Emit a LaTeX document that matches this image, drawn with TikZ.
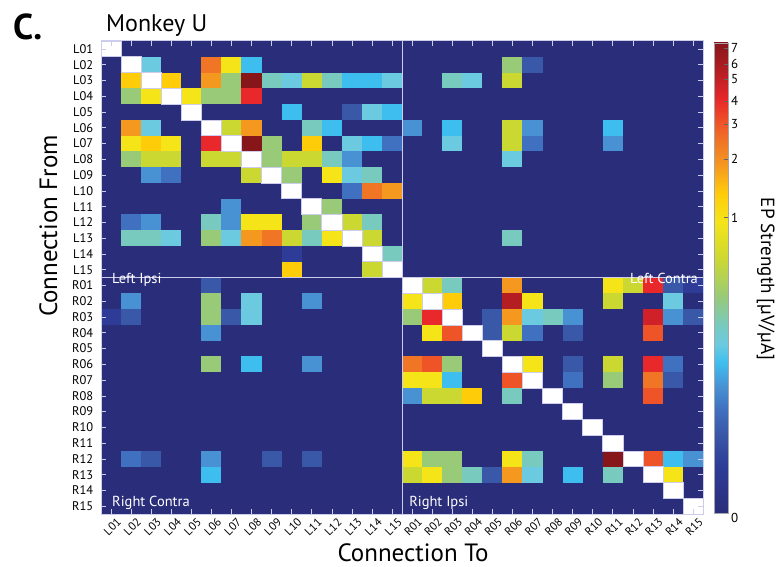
\documentclass[tikz,border=0pt]{standalone}
\usepackage{fontspec}
\setmainfont{PT Sans}
\definecolor{epNavy}{RGB}{42,46,122}
\definecolor{epBlueD}{RGB}{46,60,152}
\definecolor{epBlueA}{RGB}{58,88,168}
\definecolor{epBlueB}{RGB}{64,112,192}
\definecolor{epBlueC}{RGB}{72,146,212}
\definecolor{epCyan}{RGB}{62,190,238}
\definecolor{epLcyan}{RGB}{108,202,224}
\definecolor{epTeal}{RGB}{120,202,190}
\definecolor{epLgreen}{RGB}{152,202,120}
\definecolor{epYgreen}{RGB}{204,216,50}
\definecolor{epYellow}{RGB}{244,228,24}
\definecolor{epGold}{RGB}{255,204,10}
\definecolor{epOrange}{RGB}{245,152,32}
\definecolor{epDorange}{RGB}{240,118,38}
\definecolor{epRedor}{RGB}{238,84,40}
\definecolor{epRed}{RGB}{232,40,42}
\definecolor{epCrimson}{RGB}{208,32,40}
\definecolor{epDred}{RGB}{180,30,34}
\definecolor{epMaroon}{RGB}{135,22,27}
\definecolor{epFrame}{RGB}{205,205,235}
\pgfdeclareverticalshading{epmap}{100bp}{color(0bp)=(epNavy); color(25bp)=(epNavy);
  color(30bp)=(epBlueD); color(33.5bp)=(epBlueA); color(36bp)=(epBlueB);
  color(38.5bp)=(epBlueC); color(41bp)=(epCyan); color(43bp)=(epLcyan);
  color(45bp)=(epTeal); color(48bp)=(epLgreen); color(52bp)=(epYgreen);
  color(56bp)=(epYellow); color(59bp)=(epGold); color(62bp)=(epOrange);
  color(64.5bp)=(epDorange); color(66.5bp)=(epRedor); color(69bp)=(epRed);
  color(72bp)=(epDred); color(75bp)=(epMaroon); color(100bp)=(epMaroon)}
% one row of the matrix: column/colour pairs
\newcommand{\heatrow}[2]{\foreach \cc/\kk in {#2} \fill[\kk] (\cc-1,#1-1) rectangle (\cc,#1);}

\begin{document}
\begin{tikzpicture}[x=1pt,y=-1pt,
    every node/.style={inner sep=0pt},
    rowlab/.style={anchor=east,font=\fontsize{12.5}{13}\selectfont},
    collab/.style={anchor=east,rotate=45,font=\fontsize{11.5}{12}\selectfont},
    quadlab/.style={white,font=\fontsize{14.5}{15}\selectfont},
    axlab/.style={font=\fontsize{25}{27}\selectfont},
    diagcell/.style={fill=white,draw=epFrame,line width=0.6pt},
    eptick/.style={draw=epFrame,line width=0.6pt},
    cbtick/.style={anchor=west,font=\fontsize{13}{14}\selectfont}]
    \useasboundingbox (0,0) rectangle (777,567);
    % Header
    \node[anchor=base west,font=\fontsize{36}{38}\selectfont\bfseries] (panel) at (13,40) {C.};
    \node[anchor=base west,font=\fontsize{24}{26}\selectfont] (title) at (106,32) {Monkey U};
    % Matrix
    \begin{scope}[shift={(101,41)},x=20.07pt,y=-15.77pt]
    \fill[epNavy] (0,0) rectangle (30,30);
    \heatrow{2}{3/epLcyan,6/epDorange,7/epYellow,8/epCyan,21/epLgreen,22/epBlueA}
    \heatrow{3}{2/epGold,4/epGold,6/epOrange,7/epLgreen,8/epMaroon,9/epTeal,10/epLcyan,11/epYgreen,12/epTeal,13/epCyan,14/epCyan,15/epLcyan,18/epTeal,19/epLcyan,21/epYgreen}
    \heatrow{4}{2/epLgreen,3/epYellow,5/epYellow,6/epLgreen,7/epLgreen,8/epRed}
    \heatrow{5}{10/epCyan,13/epBlueA,14/epLcyan,15/epCyan}
    \heatrow{6}{2/epOrange,3/epLcyan,7/epYgreen,8/epOrange,11/epTeal,12/epCyan,16/epBlueC,18/epCyan,21/epYgreen,22/epBlueC,26/epCyan}
    \heatrow{7}{2/epYellow,3/epGold,4/epYellow,6/epRed,8/epMaroon,9/epLgreen,11/epGold,13/epLcyan,14/epCyan,15/epBlueB,18/epLcyan,21/epYgreen,22/epBlueB,26/epBlueC}
    \heatrow{8}{2/epLgreen,3/epYgreen,4/epYgreen,6/epYgreen,7/epYgreen,9/epLgreen,10/epYgreen,11/epYgreen,12/epTeal,13/epBlueC,21/epLcyan}
    \heatrow{9}{3/epBlueC,4/epBlueB,8/epYgreen,10/epLgreen,12/epYellow,13/epLcyan,14/epTeal}
    \heatrow{10}{13/epBlueB,14/epDorange,15/epOrange}
    \heatrow{11}{7/epBlueC,12/epLgreen}
    \heatrow{12}{2/epBlueB,3/epBlueC,6/epTeal,7/epBlueC,8/epYellow,9/epYellow,11/epLgreen,13/epYgreen,14/epTeal}
    \heatrow{13}{2/epTeal,3/epTeal,4/epLcyan,6/epLgreen,7/epLcyan,8/epOrange,9/epDorange,10/epYgreen,11/epTeal,12/epYellow,14/epYgreen,21/epTeal}
    \heatrow{14}{10/epBlueD,15/epTeal}
    \heatrow{15}{10/epGold,14/epYgreen}
    \heatrow{16}{6/epBlueA,17/epYgreen,18/epTeal,21/epOrange,26/epYellow,27/epYgreen,28/epRed,29/epBlueA,30/epBlueD}
    \heatrow{17}{2/epBlueC,6/epLgreen,8/epLcyan,11/epBlueC,16/epYellow,18/epGold,21/epDred,22/epYellow,26/epYgreen,29/epLcyan}
    \heatrow{18}{1/epBlueD,2/epBlueA,6/epLgreen,7/epBlueA,8/epLcyan,16/epLgreen,17/epRed,20/epBlueA,21/epOrange,22/epLcyan,23/epTeal,24/epBlueC,28/epCrimson,29/epBlueC,30/epBlueA}
    \heatrow{19}{6/epBlueC,17/epYellow,18/epRedor,20/epBlueA,21/epYgreen,22/epBlueB,24/epBlueA,28/epRedor}
    \heatrow{21}{6/epLgreen,8/epCyan,11/epBlueC,16/epDorange,17/epRedor,18/epLgreen,22/epYellow,24/epBlueA,26/epYgreen,28/epRed,29/epBlueB}
    \heatrow{22}{16/epYellow,17/epYellow,18/epCyan,21/epRedor,24/epBlueB,26/epLgreen,28/epDorange,29/epBlueA}
    \heatrow{23}{16/epBlueC,17/epYgreen,18/epYgreen,19/epGold,21/epTeal,28/epRedor}
    \heatrow{27}{2/epBlueB,3/epBlueA,6/epBlueC,9/epBlueA,11/epBlueA,16/epYellow,17/epLgreen,18/epLgreen,21/epYellow,22/epTeal,26/epMaroon,28/epRedor,29/epCyan,30/epBlueC}
    \heatrow{28}{6/epCyan,16/epYgreen,17/epYellow,18/epLgreen,19/epTeal,20/epBlueA,21/epOrange,22/epLcyan,24/epCyan,26/epTeal,29/epYellow}
    % Diagonal
    \foreach \i in {1,...,30} \filldraw[diagcell] (\i-1,\i-1) rectangle (\i,\i);
    % Ticks
    \foreach \i in {1,...,30} {
      \draw[eptick] (\i-0.5,0) -- ++(0pt,-5pt);
      \draw[eptick] (\i-0.5,30) -- ++(0pt,5pt);
      \draw[eptick] (0,\i-0.5) -- ++(5pt,0pt);
      \draw[eptick] (30,\i-0.5) -- ++(-5pt,0pt);
    }
    % Quadrants
    \draw[epFrame,line width=1pt] (15,0) -- (15,30) (0,15) -- (30,15);
    \draw[epFrame,line width=1pt] (0,0) rectangle (30,30);
    \node[quadlab,anchor=base west] (lipsi) at ([xshift=11pt,yshift=-6pt]0,15) {Left Ipsi};
    \node[quadlab,anchor=base east] (lcontra) at ([xshift=-5pt,yshift=-6pt]30,15) {Left Contra};
    \node[quadlab,anchor=base west] (rcontra) at ([xshift=11pt,yshift=8pt]0,30) {Right Contra};
    \node[quadlab,anchor=base west] (ripsi) at ([xshift=7pt,yshift=8pt]15,30) {Right Ipsi};
    % Labels
    \foreach \n [count=\i] in {01,02,03,04,05,06,07,08,09,10,11,12,13,14,15} {
      \node[rowlab] (rL\n) at ([xshift=-7.5pt]0,\i-0.5) {L\n};
      \node[rowlab] (rR\n) at ([xshift=-7.5pt]0,\i+14.5) {R\n};
      \node[collab] (cL\n) at ([xshift=8pt,yshift=-6pt]\i-0.5,30) {L\n};
      \node[collab] (cR\n) at ([xshift=8pt,yshift=-6pt]\i+14.5,30) {R\n};
    }
    \end{scope}
    % Axis titles
    \node[axlab,anchor=base] (xlab) at (413,561) {Connection To};
    \node[axlab,anchor=base,rotate=90] (ylab) at (57,226) {Connection From};
    % Colour bar
    \shade[shading=epmap] (714,43) rectangle (728,513);
    \draw[gray!70,line width=0.6pt] (714,43) rectangle (728,513);
    \foreach \ty/\tl in {48/7,64/6,79/5,101/4,124/3,159/2,217.5/1} {
      \draw[black!60,line width=0.5pt] (728,\ty) -- ++(-4pt,0pt);
      \node[cbtick] (cb\tl) at (731,\ty) {\tl};
    }
    \node[cbtick] (cb0) at (731,518) {0};
    \node[anchor=base,rotate=-90,font=\fontsize{19}{20}\selectfont] (cblab) at (761,279) {EP Strength [µV/µA]};
\end{tikzpicture}
\end{document}
